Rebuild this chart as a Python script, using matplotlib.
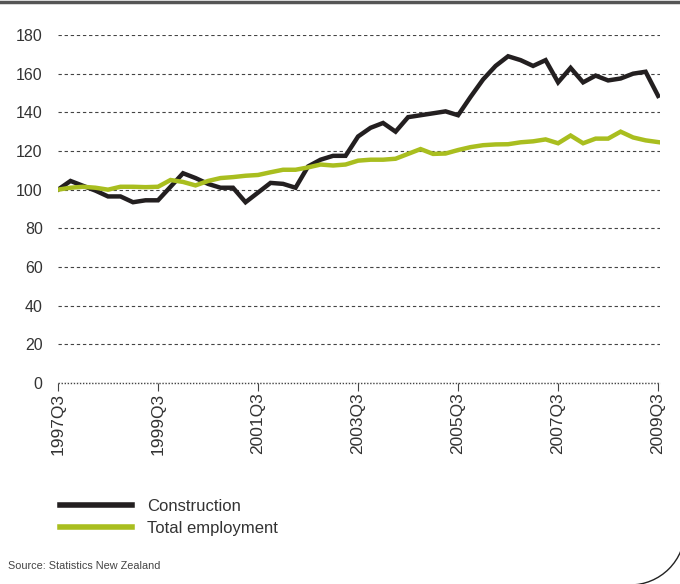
import matplotlib.pyplot as plt
from matplotlib.lines import Line2D
from matplotlib.patches import Arc

# quarterly index, 1997Q3 = 100
quarters = [f"{1997 + (i + 2) // 4}Q{(i + 2) % 4 + 1}" for i in range(49)]
construction = [100, 104.5, 102, 99.5, 96.5, 96.5, 93.5, 94.5, 94.5, 101.5,
                108.5, 106, 103, 101, 101, 93.5, 98.5, 103.5, 103, 101,
                112, 115.5, 117.5, 117.5, 127.5, 132, 134.5, 130, 137.5, 138.5,
                139.5, 140.5, 138.5, 148, 157, 164, 169, 167, 164, 167,
                155.5, 163, 155.5, 159, 156.5, 157.5, 160, 161, 148.5]
total_employment = [100, 101, 101.5, 101, 100, 101.5, 101.5, 101.3, 101.5, 105,
                    104, 102.2, 104.5, 106, 106.5, 107.2, 107.6, 109, 110.3, 110.3,
                    111.5, 113, 112.5, 113, 115, 115.5, 115.5, 116, 118.5, 121,
                    118.5, 118.7, 120.5, 122, 123, 123.4, 123.5, 124.5, 125, 126,
                    124, 128, 124, 126.4, 126.4, 130, 127, 125.5, 124.6]
series_names = ["Construction", "Total employment"]
series_colors = ["#231f20", "#a9be1f"]

plt.rcParams['font.family'] = ['Liberation Sans', 'DejaVu Sans']

fig = plt.figure(figsize=(6.8, 5.84), dpi=100)
ax = fig.add_axes([58 / 680, 1 - 383 / 584, 602 / 680, 348 / 584])

x = list(range(len(quarters)))
for vals, name, col in zip([construction, total_employment], series_names, series_colors):
    ax.plot(x, vals, color=col, lw=3.2, label=name, solid_joinstyle='miter', zorder=3)

ax.set_xlim(0, 48.15)
ax.set_ylim(0, 180)
ax.set_yticks(range(0, 181, 20))
ax.grid(axis='y', color='#444444', ls=(0, (3, 2.5)), lw=0.8)
ax.axhline(0, color='#444444', ls=(0, (1, 1.2)), lw=1.0, clip_on=False, zorder=2)
for s in ax.spines.values():
    s.set_visible(False)

ax.set_xticks(x[::8])
ax.set_xticklabels(quarters[::8], rotation=90)
ax.tick_params(axis='x', length=5.5, width=0.8, color='#444444', pad=1.5,
               labelsize=12.5, labelcolor='#333333')
ax.tick_params(axis='y', length=0, pad=11, labelsize=11.5, labelcolor='#333333')

ax.legend(loc='upper left', bbox_to_anchor=(45 / 680, 1 - 484 / 584),
          bbox_transform=fig.transFigure, frameon=False, fontsize=12,
          handlelength=4.3, handleheight=0.6, labelspacing=0.4,
          handletextpad=0.9, labelcolor='#333333')
for h in ax.get_legend().get_lines():
    h.set_linewidth(4)

fig.text(8 / 680, 1 - 566 / 584, "Source: Statistics New Zealand",
         fontsize=7.8, color='#444444', va='center')

# frame: rule along the top and a rounded corner at bottom right
fig.add_artist(Line2D([0, 1], [1 - 1.5 / 584, 1 - 1.5 / 584], color='#555555', lw=2.5,
                      transform=fig.transFigure))
fig.add_artist(Arc((630 / 680, 1 - 530 / 584), 110 / 680, 110 / 584,
                   theta1=270, theta2=360, color='#222222', lw=1,
                   transform=fig.transFigure))

fig.savefig('out.png', dpi=100)
